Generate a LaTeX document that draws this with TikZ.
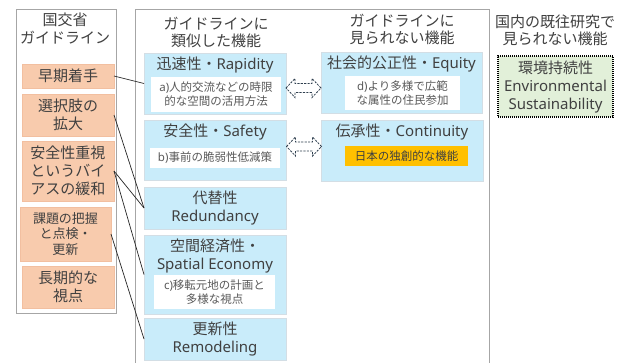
\documentclass[tikz,border=0pt]{standalone}
\usepackage{fontspec}
\setmainfont{Noto Sans CJK JP}
\newfontfamily\latfont{Noto Sans}
\newcommand\latn[1]{{\latfont #1}}
\definecolor{txt}{HTML}{404040}
\definecolor{smalltxt}{HTML}{595959}
\definecolor{orfill}{HTML}{F8CBAD}
\definecolor{oredge}{HTML}{F2BFA0}
\definecolor{blfill}{HTML}{C9ECFA}
\definecolor{bledge}{HTML}{D3DEE5}
\definecolor{grfill}{HTML}{E2F0D9}
\definecolor{goldfill}{HTML}{FFC000}
\definecolor{framec}{HTML}{A6A6A6}
\definecolor{arrowc}{HTML}{2F3F4F}
\tikzset{
  rect/.style={anchor=north west, inner sep=0pt, outer sep=0pt},
  panel/.style={rect, draw=framec, line width=0.8pt},
  big/.style={font=\fontsize{15}{18}\selectfont, text=txt, align=center, inner sep=0pt},
  head/.style={big, font=\fontsize{15}{17.5}\selectfont},
  small/.style={font=\fontsize{11.5}{14}\selectfont, text=smalltxt, align=center, inner sep=0pt},
  obox/.style={rect, big, fill=orfill, draw=oredge, line width=0.6pt},
  bbox/.style={rect, big, fill=blfill, draw=bledge, line width=0.8pt},
  wbox/.style={rect, small, fill=white},
  gbox/.style={rect, big, fill=grfill, draw=black, line width=1.3pt, dash pattern=on 1pt off 1pt},
  link/.style={draw=black!85, line width=0.7pt},
  dblarrow/.pic={
    \draw[arrowc, dash pattern=on 2.2pt off 1.2pt, line width=0.8pt, fill=white]
      (-17.5,0) -- (-8.5,-9.5) -- (-8.5,-4.5) -- (8.5,-4.5) -- (8.5,-9.5) -- (17.5,0)
      -- (8.5,9.5) -- (8.5,4.5) -- (-8.5,4.5) -- (-8.5,9.5) -- cycle;
  }
}
\begin{document}
\begin{tikzpicture}[x=1pt,y=-1pt]
\useasboundingbox (0,0) rectangle (619,362);
\clip (0,0) rectangle (619,362);
\fill[white] (0,0) rectangle (619,362);

% panels
\node[panel, minimum width=100pt, minimum height=304pt] (leftpanel) at (16,9) {};
\node[panel, minimum width=354pt, minimum height=380pt] (midpanel) at (135,9) {};

% headers
\node[head] (hleft) at (65,28.5) {国交省\\ガイドライン};
\node[head] (hsim) at (216,32.5) {ガイドラインに\\類似した機能};
\node[head] (hnot) at (402,29.5) {ガイドラインに\\見られない機能};
\node[head] (hdom) at (555,30.5) {国内の既往研究で\\見られない機能};

% left orange boxes
\node[obox, minimum width=92pt, minimum height=24pt] (soki) at (22,64) {早期着手};
\node[obox, minimum width=92pt, minimum height=42pt] (sentaku) at (22,94) {選択肢の\\拡大};
\node[obox, minimum width=92pt, minimum height=60pt] (anzenj) at (22,141) {安全性重視\\というバイ\\アスの緩和};
\node[obox, minimum width=91pt, minimum height=54pt, font=\fontsize{13}{15.5}\selectfont] (kadai) at (20,207) {課題の把握\\と点検・\\更新};
\node[obox, minimum width=92pt, minimum height=42pt] (choki) at (22,266) {長期的な\\視点};

% middle blue boxes (similar)
\node[bbox, minimum width=142pt, minimum height=61pt] (rap) at (144,53) {};
\node[big] (rapt) at (215,65) {迅速性・\latn{Rapidity}};
\node[wbox, minimum width=130pt, minimum height=35pt] (rapin) at (151,77) {\latn{a)}人的交流などの時限\\的な空間の活用方法};

\node[bbox, minimum width=142pt, minimum height=60pt] (saf) at (144,120) {};
\node[big] (saft) at (215,132) {安全性・\latn{Safety}};
\node[wbox, minimum width=130pt, minimum height=20pt] (safin) at (150,148) {\latn{b)}事前の脆弱性低減策};

\node[bbox, minimum width=142pt, minimum height=42pt] (red) at (144,187) {代替性\\\latn{Redundancy}};

\node[bbox, minimum width=142pt, minimum height=79pt] (spa) at (144,235) {};
\node[big] (spat) at (215,255.5) {空間経済性・\\\latn{Spatial Economy}};
\node[wbox, minimum width=121pt, minimum height=34pt] (spain) at (154,275) {\latn{c)}移転元地の計画と\\多様な視点};

\node[bbox, minimum width=142pt, minimum height=42pt] (rem) at (144,318) {更新性\\\latn{Remodeling}};

% middle blue boxes (not in guideline)
\node[bbox, minimum width=161pt, minimum height=61pt] (equ) at (321,52) {};
\node[big] (equt) at (401.5,64) {社会的公正性・\latn{Equity}};
\node[wbox, minimum width=115pt, minimum height=34pt] (equin) at (345,76) {\latn{d)}より多様で広範\\な属性の住民参加};

\node[bbox, minimum width=162pt, minimum height=61pt] (con) at (321,120) {};
\node[big] (cont) at (402,132) {伝承性・\latn{Continuity}};
\node[wbox, fill=goldfill, text=txt, minimum width=123pt, minimum height=20pt] (conin) at (345,146) {日本の独創的な機能};

% green box
\node[gbox, minimum width=115pt, minimum height=61pt] (env) at (498,56) {環境持続性\\\latn{Environmental}\\\latn{Sustainability}};

% dashed block arrows
\pic at (303.5,88) {dblarrow};
\pic at (304,146.5) {dblarrow};

% links
\draw[link] (soki.east) -- (rap.west);
\draw[link] (sentaku.east) -- (red.west);
\draw[link] (anzenj.east) -- (red.west);
\draw[link] (anzenj.east) -- (spa.west);
\draw[link] (kadai.east) -- (rem.west);
\end{tikzpicture}
\end{document}
